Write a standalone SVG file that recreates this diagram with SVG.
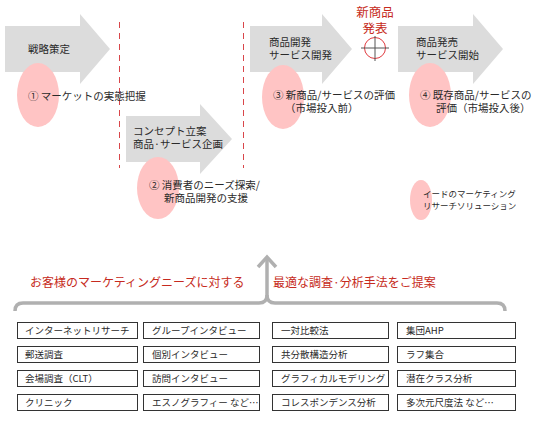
<svg xmlns="http://www.w3.org/2000/svg" width="540" height="424" viewBox="0 0 540 424">
<style>
.arrow{fill:#dcdcdc}
.ell{fill:#ffc4c4}
.t{font-family:"Noto Sans CJK JP","Noto Sans",sans-serif;font-size:10.5px;fill:#2a2a2a}
.ts{font-family:"Noto Sans CJK JP","Noto Sans",sans-serif;font-size:8.5px;fill:#2a2a2a}
.tb{font-family:"Noto Sans CJK JP","Noto Sans",sans-serif;font-size:9.5px;fill:#2a2a2a}
.tr{font-family:"Noto Sans CJK JP","Noto Sans",sans-serif;font-size:12px;fill:#c62a20}
.box{fill:#fff;stroke:#333;stroke-width:1}
.dash{stroke:#d9464a;stroke-width:1;stroke-dasharray:6 5;fill:none}
.gray{stroke:#b0b0b0;stroke-width:3.5;fill:none}
</style>
<rect width="540" height="424" fill="#fff"/>
<g id="guides">
<line class="dash" x1="119.5" y1="22" x2="119.5" y2="168"/>
<line class="dash" x1="243.5" y1="22" x2="243.5" y2="168"/>
</g>
<g id="step1">
<polygon class="arrow" points="5,26 80,26 80,14 110,49 80,84 80,72 5,72"/>
<ellipse class="ell" cx="38" cy="95" rx="21" ry="32"/>
<text class="t" x="28" y="53">戦略策定</text>
<text class="t" x="28" y="100">① マーケットの実態把握</text>
</g>
<g id="step2">
<polygon class="arrow" points="126,116 200,116 200,104 232,139 200,174 200,162 126,162"/>
<ellipse class="ell" cx="158" cy="188" rx="21" ry="31"/>
<text class="t" x="133" y="135">コンセプト立案</text>
<text class="t" x="133" y="147.5">商品·サービス企画</text>
<text class="t" x="149" y="189">② 消費者のニーズ探索/</text>
<text class="t" x="164" y="202">新商品開発の支援</text>
</g>
<g id="step3">
<polygon class="arrow" points="250,26 322,26 322,14 352,49 322,84 322,72 250,72"/>
<ellipse class="ell" cx="283" cy="97" rx="21" ry="32"/>
<text class="t" x="269" y="46">商品開発</text>
<text class="t" x="269" y="59">サービス開発</text>
<text class="t" x="273" y="99">③ 新商品/サービスの評価</text>
<text class="t" x="285" y="112">（市場投入前）</text>
</g>
<g id="launch">
<text class="tr" x="375" y="17" text-anchor="middle" style="font-size:12.5px">新商品</text>
<text class="tr" x="375" y="32.5" text-anchor="middle" style="font-size:12.5px">発表</text>
<circle cx="375" cy="48" r="10.5" fill="none" stroke="#e0393e" stroke-width="1"/>
<line x1="361" y1="48" x2="389" y2="48" stroke="#555" stroke-width="1"/>
<line x1="375" y1="36" x2="375" y2="61" stroke="#555" stroke-width="1"/>
</g>
<g id="step4">
<polygon class="arrow" points="398,26 473,26 473,14 503,49 473,84 473,72 398,72"/>
<ellipse class="ell" cx="430" cy="95" rx="21" ry="32"/>
<text class="t" x="416" y="46">商品発売</text>
<text class="t" x="416" y="59">サービス開始</text>
<text class="t" x="420" y="99">④ 既存商品/サービスの</text>
<text class="t" x="436" y="112">評価（市場投入後）</text>
</g>
<g id="legend">
<ellipse class="ell" cx="421" cy="200" rx="11" ry="20"/>
<text class="ts" x="423" y="197">イードのマーケティング</text>
<text class="ts" x="423" y="208.5">リサーチソリューション</text>
</g>
<g id="connectors">
<path class="gray" d="M15,311 Q15,303 23,303 L259,303 Q267,303 267,295 Q267,303 275,303 L497,303 Q505,303 505,311"/>
<line class="gray" x1="267" y1="296" x2="267" y2="258"/>
<polyline class="gray" points="258,267 267,257 276,267"/>
</g>
<g id="headline">
<text class="tr" x="30" y="287">お客様のマーケティングニーズに対する</text>
<text class="tr" x="273" y="287">最適な調査·分析手法をご提案</text>
</g>
<g id="methods">
<rect class="box" x="17.5" y="322.5" width="120" height="16"/>
<rect class="box" x="17.5" y="346.5" width="120" height="16"/>
<rect class="box" x="17.5" y="370.5" width="120" height="16"/>
<rect class="box" x="17.5" y="394.5" width="120" height="16"/>
<rect class="box" x="143.5" y="322.5" width="116" height="16"/>
<rect class="box" x="143.5" y="346.5" width="116" height="16"/>
<rect class="box" x="143.5" y="370.5" width="116" height="16"/>
<rect class="box" x="143.5" y="394.5" width="116" height="16"/>
<rect class="box" x="272.5" y="322.5" width="116" height="16"/>
<rect class="box" x="272.5" y="346.5" width="116" height="16"/>
<rect class="box" x="272.5" y="370.5" width="116" height="16"/>
<rect class="box" x="272.5" y="394.5" width="116" height="16"/>
<rect class="box" x="397.5" y="322.5" width="118" height="16"/>
<rect class="box" x="397.5" y="346.5" width="118" height="16"/>
<rect class="box" x="397.5" y="370.5" width="118" height="16"/>
<rect class="box" x="397.5" y="394.5" width="118" height="16"/>
<text class="tb" x="25" y="334">インターネットリサーチ</text>
<text class="tb" x="25" y="358">郵送調査</text>
<text class="tb" x="25" y="382">会場調査（CLT）</text>
<text class="tb" x="25" y="406">クリニック</text>
<text class="tb" x="152" y="334">グループインタビュー</text>
<text class="tb" x="152" y="358">個別インタビュー</text>
<text class="tb" x="152" y="382">訪問インタビュー</text>
<text class="tb" x="152" y="406">エスノグラフィー など…</text>
<text class="tb" x="281" y="334">一対比較法</text>
<text class="tb" x="281" y="358">共分散構造分析</text>
<text class="tb" x="281" y="382">グラフィカルモデリング</text>
<text class="tb" x="281" y="406">コレスポンデンス分析</text>
<text class="tb" x="406" y="334">集団AHP</text>
<text class="tb" x="406" y="358">ラフ集合</text>
<text class="tb" x="406" y="382">潜在クラス分析</text>
<text class="tb" x="406" y="406">多次元尺度法 など…</text>
</g>
</svg>
